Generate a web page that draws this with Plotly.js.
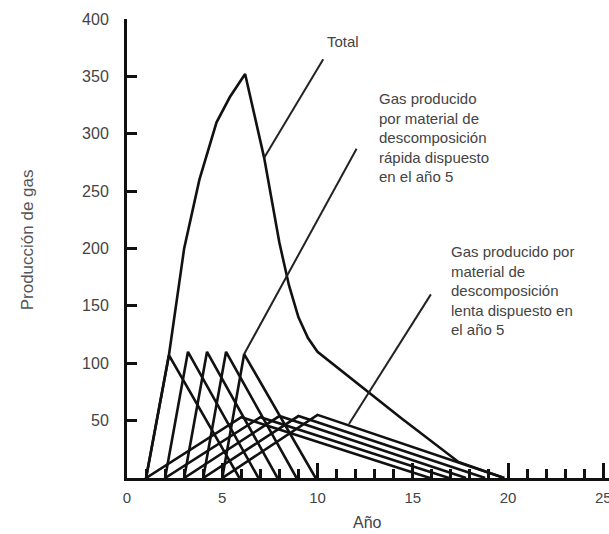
<!DOCTYPE html>
<html>
<head>
<meta charset="utf-8">
<script src="https://cdn.plot.ly/plotly-3.0.1.min.js"></script>
<style>html,body{margin:0;padding:0;background:#fff;}#chart{width:609px;height:534px;}</style>
</head>
<body>
<div id="chart"></div>
<script>
// Rapid-decomposition material disposed in years 1..5
const rapidStart = [1, 2, 3, 4, 5];
const rapidPeakYear = [2.2, 3.2, 4.2, 5.2, 6.15];
const rapidPeak = [107, 110, 110, 110, 108];
const rapidEnd = [5.9, 6.9, 7.9, 8.9, 9.9];
// Slow-decomposition material disposed in years 1..5
const slowStart = [1, 2, 3, 4, 5];
const slowPeakYear = [6, 7, 8, 9, 10];
const slowPeak = [53, 53, 54, 54, 55];
const slowEnd = [15.9, 16.9, 17.8, 18.8, 19.8];
// Total gas production
const totalYear = [1, 2.2, 3, 3.8, 4.7, 5.4, 6.2, 7.2, 8.0, 8.5, 9.0, 9.5, 10, 14.4, 17.4, 19.8];
const totalGas = [0, 107, 200, 260, 310, 332, 352, 279, 205, 168, 140, 122, 110, 52, 14, 0];
// Leader lines [from, to]
const leaderTotalX = [7.2, 10.3];
const leaderTotalY = [279, 365];
const leaderRapidX = [6.15, 12.05];
const leaderRapidY = [108, 287];
const leaderSlowX = [11.65, 15.95];
const leaderSlowY = [47, 160];
// Labels
const labelTotal = "Total";
const labelRapid = "Gas producido<br>por material de<br>descomposición<br>rápida dispuesto<br>en el año 5";
const labelSlow = "Gas producido por<br>material de<br>descomposición<br>lenta dispuesto en<br>el año 5";
const xTitle = "Año";
const yTitle = "Producción de gas";
const yTicks = [50, 100, 150, 200, 250, 300, 350, 400];
const xTicks = [0, 5, 10, 15, 20, 25];

const traces = [];
const lineStyle = {color: '#111', width: 2.6};
for (let i = 0; i < rapidStart.length; i++) {
  traces.push({x: [rapidStart[i], rapidPeakYear[i], rapidEnd[i]], y: [0, rapidPeak[i], 0],
    mode: 'lines', line: lineStyle, hoverinfo: 'skip'});
}
for (let i = 0; i < slowStart.length; i++) {
  traces.push({x: [slowStart[i], slowPeakYear[i], slowEnd[i]], y: [0, slowPeak[i], 0],
    mode: 'lines', line: lineStyle, hoverinfo: 'skip'});
}
traces.push({x: totalYear, y: totalGas, mode: 'lines', line: {color: '#111', width: 2.6}, hoverinfo: 'skip'});
const leaderStyle = {color: '#222', width: 2};
traces.push({x: leaderTotalX, y: leaderTotalY, mode: 'lines', line: leaderStyle});
traces.push({x: leaderRapidX, y: leaderRapidY, mode: 'lines', line: leaderStyle});
traces.push({x: leaderSlowX, y: leaderSlowY, mode: 'lines', line: leaderStyle});

const fontFam = '"Liberation Sans", Arial, sans-serif';
const layout = {
  width: 609, height: 534,
  margin: {l: 127, r: 0, t: 19, b: 56},
  paper_bgcolor: '#fff', plot_bgcolor: '#fff',
  showlegend: false,
  font: {family: fontFam, color: '#333', size: 16},
  xaxis: {
    range: [0, 25.3], tickvals: xTicks, ticktext: xTicks.map(String),
    showgrid: false, zeroline: false, showline: true, linecolor: '#111', linewidth: 3,
    ticks: 'inside', ticklen: 15, tickwidth: 3, tickcolor: '#111',
    minor: {ticks: 'inside', dtick: 1, tick0: 0, ticklen: 9, tickwidth: 3, tickcolor: '#111'},
    tickfont: {size: 15, color: '#444'}, ticklabelstandoff: 4, ticklabeloverflow: 'allow'
  },
  yaxis: {
    range: [0, 400], tickvals: yTicks, ticktext: yTicks.map(String),
    showgrid: false, zeroline: false, showline: true, linecolor: '#111', linewidth: 3,
    ticks: 'inside', ticklen: 10, tickwidth: 3, tickcolor: '#111',
    tickfont: {size: 16, color: '#444'}, ticklabelstandoff: 12
  },
  annotations: [
    {text: labelTotal, x: 10.4, y: 380, xref: 'x', yref: 'y', xanchor: 'left', yanchor: 'middle',
     showarrow: false, align: 'left', font: {size: 15, color: '#444'}},
    {text: labelRapid, x: 13.1, y: 297, xref: 'x', yref: 'y', xanchor: 'left', yanchor: 'middle',
     showarrow: false, align: 'left', font: {size: 15, color: '#444'}},
    {text: labelSlow, x: 16.9, y: 163, xref: 'x', yref: 'y', xanchor: 'left', yanchor: 'middle',
     showarrow: false, align: 'left', font: {size: 15, color: '#444'}},
    {text: xTitle, x: 0.498, y: -0.098, xref: 'paper', yref: 'paper', xanchor: 'center', yanchor: 'middle',
     showarrow: false, font: {size: 16, color: '#444'}},
    {text: yTitle, x: -0.2075, y: 0.52, xref: 'paper', yref: 'paper', xanchor: 'center', yanchor: 'middle',
     textangle: -90, showarrow: false, font: {size: 17, color: '#555'}}
  ]
};
Plotly.newPlot('chart', traces, layout, {displayModeBar: false, staticPlot: true});
</script>
</body>
</html>
